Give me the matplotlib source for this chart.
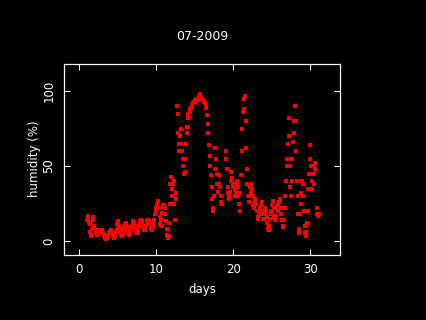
import numpy as np
import matplotlib
matplotlib.use("Agg")
import matplotlib.pyplot as plt

# humidity readings every 2 hours, July 2009 (day 1.0 .. 31.1)
nan = np.nan
day01 = [14, 17, 15, 12, 11, 6, 3, 4, 8, 14, 16, 10]
day02 = [8, 7, 6, 5, 4, 5, 6, 7, 6, 5, 6, 7]
day03 = [6, 5, 4, 3, 2, 1, 1, 2, 3, 4, 5, 6]
day04 = [6, 7, 6, 5, 4, 3, 2, 3, 4, 6, 8, 11]
day05 = [13, 12, 10, 8, 6, 4, 3, 4, 5, 7, 9, 11]
day06 = [12, 11, 9, 7, 5, 4, 4, 5, 7, 9, 10, 12]
day07 = [13, 12, 10, 8, 6, 5, 5, 6, 8, 10, 12, 13]
day08 = [14, 13, 11, 9, 8, 7, 7, 8, 10, 12, 13, 14]
day09 = [13, 12, 11, 9, 8, 7, 7, 9, 11, 14, 18, 22]
day10 = [20, 24, 27, 26, 22, 16, 11, 10, 14, 19, 23, 24]
day11 = [24, 22, 18, 13, 8, 4, 2, 3, 12, 25, 38, 43]
day12 = [35, 30, 38, 40, 25, 14, 32, 28, 90, 85, 72, 65]
day13 = [60, 70, 75, 65, 60, 55, 50, 45, 46, 55, 65, 72]
day14 = [76, 82, 85, 82, 86, 88, 89, 90, 91, 92, 92, 93]
day15 = [93, 94, 94, 94, 95, 95, 96, 97, 98, 96, 95, 95]
day16 = [94, 94, 93, 93, 92, 91, 89, 84, 78, 72, 64, 57]
day17 = [50, 44, 36, 28, 22, 20, 30, 48, 62, 55, 45, 38]
day18 = [33, 38, 44, 36, 30, 26, 25, nan, nan, nan, nan, nan]
day19 = [55, 60, 48, 36, 32, 30, 28, 33, 40, 46, 42, 38]
day20 = [36, 38, 34, 30, 32, 38, 40, 36, 30, 25, 20, 32]
day21 = [44, 60, 75, 86, 88, 95, 97, 80, 62, 48, 38, 30]
day22 = [26, 30, 36, 32, 38, 35, 24, 30, 22, 26, 28, 25]
day23 = [25, 20, 16, 15, 18, 22, 20, 24, 26, 18, 15, 20]
day24 = [15, 18, 22, 20, 16, 12, 8, 7, 10, 15, 20, 18]
day25 = [20, 24, 27, 22, 16, 14, 17, 22, 24, 20, 24, 26]
day26 = [28, 26, 22, 18, 14, 10, 9, 14, 22, 30, 40, 50]
day27 = [55, 65, 82, 70, 50, 36, 30, 40, 55, 66, 72, 80]
day28 = [90, 80, 60, 40, 30, 18, 5, 8, 18, 25, 32, 40]
day29 = [38, 30, 20, 10, 5, 3, 6, 12, 20, 35, 45, 55]
day30 = [64, 50, 40, 35, 45, 50, 38, 48, 52, nan, 22, 18]
day31 = [17, 18]

humidity = np.array(day01 + day02 + day03 + day04 + day05 + day06 + day07 +
                    day08 + day09 + day10 + day11 + day12 + day13 + day14 +
                    day15 + day16 + day17 + day18 + day19 + day20 + day21 +
                    day22 + day23 + day24 + day25 + day26 + day27 + day28 +
                    day29 + day30 + day31, dtype=float)
days = 1 + np.arange(len(humidity)) / 12.0

x_ticks = [0, 10, 20, 30]
y_ticks = [0, 50, 100]

fig = plt.figure(figsize=(4.26, 3.2), dpi=100, facecolor="black")
ax = fig.add_axes([0.151, 0.203, 0.648, 0.598], facecolor="black")

ax.plot(days, humidity, "s", ms=2.6, mew=0, color="#ff0000",
        antialiased=False)

ax.set_xlim(-1.95, 33.9)
ax.set_ylim(-9.4, 118.4)
ax.set_xticks(x_ticks)
ax.set_yticks(y_ticks)
ax.set_yticklabels([str(v) for v in y_ticks], rotation=90, va="center")

for s in ax.spines.values():
    s.set_color("white")
    s.set_linewidth(0.9)
ax.tick_params(direction="in", length=4.2, width=0.8, colors="white",
               top=True, right=True, labelsize=8.5)
ax.tick_params(axis="x", pad=5.5)
ax.tick_params(axis="y", pad=6.5)

fig.text(0.474, 0.887, "07-2009", color="white", fontsize=9,
         ha="center", va="center")
fig.text(0.474, 0.094, "days", color="white", fontsize=8.5,
         ha="center", va="center")
fig.text(0.0814, 0.505, "humidity (%)", color="white", fontsize=8.5,
         ha="center", va="center", rotation=90)

fig.savefig("out.png", dpi=100, facecolor="black")
